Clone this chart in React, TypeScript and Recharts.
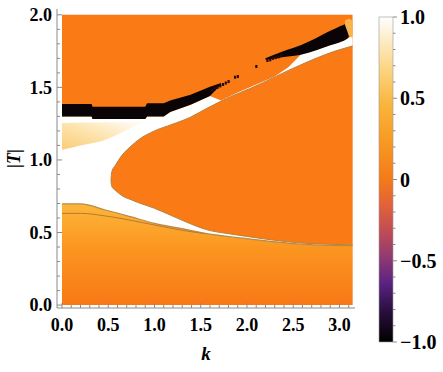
import { Area, ComposedChart, Line, Scatter, XAxis, YAxis } from 'recharts';

// tick positions (major every 0.5, minor every 0.1)
const xTicks = [0, 0.1, 0.2, 0.3, 0.4, 0.5, 0.6, 0.7, 0.8, 0.9, 1, 1.1, 1.2, 1.3, 1.4, 1.5, 1.6, 1.7, 1.8, 1.9, 2, 2.1, 2.2, 2.3, 2.4, 2.5, 2.6, 2.7, 2.8, 2.9, 3, 3.1];
const yTicks = [0, 0.1, 0.2, 0.3, 0.4, 0.5, 0.6, 0.7, 0.8, 0.9, 1, 1.1, 1.2, 1.3, 1.4, 1.5, 1.6, 1.7, 1.8, 1.9, 2];

// whole plot range (value 0 -> orange)
const bgK = [0, 3.1416];
const bgTop = [2, 2];

// white band (|value| = 1) under the black band
const whiteK = [0, 0.32, 0.33, 0.9, 0.92, 1.1, 1.17, 1.39, 1.6, 1.72, 1.9, 2.1, 2.3, 2.45, 2.58, 2.9, 3.07, 3.1416];
const whiteTop = [1.3, 1.3, 1.282, 1.282, 1.3, 1.3, 1.33, 1.38, 1.44, 1.41, 1.465, 1.52, 1.575, 1.64, 1.725, 1.79, 1.83, 1.86];

// pale yellow patch at upper left
const yellowK = [0, 0.2, 0.47, 0.65, 0.79, 0.9];
const yellowLo = [1.07, 1.1, 1.14, 1.19, 1.235, 1.262];
const yellowHi = [1.255, 1.258, 1.26, 1.262, 1.264, 1.265];

// orange tongue
const tongueK = [0.53, 0.534, 0.545, 0.574, 0.646, 0.755, 0.83, 1.0, 1.19, 1.39, 1.55, 1.82, 2.04, 2.58, 2.94, 3.1416];
const tongueLo = [0.862, 0.83, 0.81, 0.793, 0.755, 0.724, 0.705, 0.667, 0.615, 0.56, 0.522, 0.49, 0.469, 0.428, 0.418, 0.415];
const tongueHi = [0.862, 0.9, 0.93, 0.96, 1.03, 1.1, 1.14, 1.2, 1.245, 1.295, 1.35, 1.435, 1.494, 1.655, 1.747, 1.785];

// lower region
const bottomK = [0, 0.2, 0.47, 0.74, 1.0, 1.28, 1.55, 2.04, 2.58, 2.9, 3.1416];
const bottomTop = [0.697, 0.697, 0.655, 0.609, 0.563, 0.529, 0.494, 0.455, 0.42, 0.412, 0.41];
const innerK = [0, 0.2, 0.47, 1.0, 1.3, 1.55];
const innerT = [0.632, 0.632, 0.614, 0.552, 0.515, 0.492];

// black band (value -1)
const blackK = [0, 0.32, 0.33, 0.9, 0.92, 1.1, 1.17, 1.39, 1.6, 1.72];
const blackLo = [1.3, 1.3, 1.282, 1.282, 1.3, 1.3, 1.33, 1.38, 1.44, 1.52];
const blackHi = [1.385, 1.385, 1.367, 1.367, 1.39, 1.39, 1.41, 1.45, 1.505, 1.53];
const black2K = [2.2, 2.4, 2.58, 2.75, 2.9, 3.0, 3.07, 3.1];
const black2Lo = [1.69, 1.71, 1.725, 1.755, 1.79, 1.81, 1.83, 1.845];
const black2Hi = [1.7, 1.75, 1.79, 1.84, 1.89, 1.92, 1.94, 1.955];

// scattered black points
const dotK = [1.62, 1.65, 1.68, 1.71, 1.74, 1.77, 1.8, 1.87, 1.9, 2.1, 2.22, 2.25, 2.28, 2.31, 2.34, 2.37];
const dotT = [1.48, 1.49, 1.5, 1.51, 1.52, 1.53, 1.54, 1.57, 1.575, 1.644, 1.685, 1.69, 1.7, 1.705, 1.71, 1.72];

// little patch in the top right corner
const cornerK = [3.06, 3.1, 3.1416];
const cornerLo = [1.93, 1.86, 1.84];
const cornerHi = [1.96, 1.975, 1.96];

// colour bar
const barTicks = [1, 0.9, 0.8, 0.7, 0.6, 0.5, 0.4, 0.3, 0.2, 0.1, 0, -0.1, -0.2, -0.3, -0.4, -0.5, -0.6, -0.7, -0.8, -0.9, -1];
const barLabels = ['1.0', '0.5', '0', '\u22120.5', '\u22121.0'];
const barLabelValues = [1, 0.5, 0, -0.5, -1];

const ORANGE = '#fa7a15';
const FRAME = '#8a8a8a';
const FONT = "'Liberation Serif', 'Times New Roman', serif";

const band = (ks: number[], lo: number[], hi: number[]) => ks.map((k, i) => ({ k, r: [lo[i], hi[i]] }));
const curve = (ks: number[], vs: number[]) => ks.map((k, i) => ({ k, t: vs[i] }));

const isMajor = (v: number) => Math.abs(v * 2 - Math.round(v * 2)) < 1e-6;

const BottomTick = (p: any) => {
  const v = p.payload.value;
  const m = isMajor(v);
  return (
    <g>
      <line x1={p.x} y1={p.y} x2={p.x} y2={p.y - (m ? 5 : 3)} stroke={FRAME} />
      {m && (
        <text x={p.x} y={p.y + 23} textAnchor="middle" fontFamily={FONT} fontWeight="bold" fontSize={18} fill="#000">
          {v.toFixed(1)}
        </text>
      )}
    </g>
  );
};

const TopTick = (p: any) => {
  const m = isMajor(p.payload.value);
  return <line x1={p.x} y1={p.y} x2={p.x} y2={p.y + (m ? 5 : 3)} stroke={FRAME} />;
};

const LeftTick = (p: any) => {
  const v = p.payload.value;
  const m = isMajor(v);
  return (
    <g>
      <line x1={p.x} y1={p.y} x2={p.x + (m ? 5 : 3)} y2={p.y} stroke={FRAME} />
      {m && (
        <text x={p.x - 5} y={p.y} dy="0.35em" textAnchor="end" fontFamily={FONT} fontWeight="bold" fontSize={18} fill="#000">
          {v.toFixed(1)}
        </text>
      )}
    </g>
  );
};

const RightTick = (p: any) => {
  const m = isMajor(p.payload.value);
  return <line x1={p.x} y1={p.y} x2={p.x - (m ? 5 : 3)} y2={p.y} stroke={FRAME} />;
};

const ColorBar = () => {
  const top = 17;
  const h = 325;
  const x0 = 379;
  const w = 14;
  const yOf = (v: number) => top + ((1 - v) / 2) * h;
  return (
    <svg width={443} height={372} style={{ position: 'absolute', left: 0, top: 0, pointerEvents: 'none' }}>
      <defs>
        <linearGradient id="sunset" x1="0" y1="0" x2="0" y2="1">
          <stop offset="0" stopColor="#ffffff" />
          <stop offset="0.08" stopColor="#fde9bf" />
          <stop offset="0.17" stopColor="#fbd27a" />
          <stop offset="0.27" stopColor="#f9b43c" />
          <stop offset="0.38" stopColor="#f89a22" />
          <stop offset="0.5" stopColor="#f47a18" />
          <stop offset="0.58" stopColor="#e0623a" />
          <stop offset="0.66" stopColor="#c04c55" />
          <stop offset="0.74" stopColor="#8f3a72" />
          <stop offset="0.82" stopColor="#5a2282" />
          <stop offset="0.9" stopColor="#2c1042" />
          <stop offset="1" stopColor="#000000" />
        </linearGradient>
      </defs>
      <rect x={x0} y={top} width={w} height={h} fill="url(#sunset)" stroke="#9a9a9a" strokeWidth={0.6} />
      {barTicks.map((v) => (
        <line key={v} x1={x0 + w} x2={x0 + w + (isMajor(v) ? 4 : 2.5)} y1={yOf(v)} y2={yOf(v)} stroke={FRAME} />
      ))}
      {barLabelValues.map((v, i) => (
        <text key={v} x={x0 + w + 7} y={yOf(v)} dy="0.35em" fontFamily={FONT} fontWeight="bold" fontSize={20} fill="#000">
          {barLabels[i]}
        </text>
      ))}
    </svg>
  );
};

export default function App() {
  const xDomain = [-0.054, 3.168];
  const yDomain = [-0.02, 2.04];
  return (
    <div style={{ position: 'absolute', left: 0, top: 0, width: 443, height: 372, background: '#fff' }}>
      <ComposedChart width={443} height={372} margin={{ top: 9, right: 88, bottom: 0, left: 0 }}>
        <defs>
          <linearGradient id="lowGrad" x1="0" y1="0" x2="0" y2="1">
            <stop offset="0" stopColor="#fdb53a" />
            <stop offset="0.45" stopColor="#fb951f" />
            <stop offset="1" stopColor="#f87816" />
          </linearGradient>
          <linearGradient id="yellowGrad" x1="0" y1="1" x2="1" y2="0">
            <stop offset="0" stopColor="#f9cd78" />
            <stop offset="0.45" stopColor="#fde2aa" />
            <stop offset="1" stopColor="#ffffff" />
          </linearGradient>
        </defs>
        <XAxis
          xAxisId={0}
          dataKey="k"
          type="number"
          domain={xDomain}
          allowDataOverflow
          ticks={xTicks}
          interval={0}
          height={64}
          tickSize={0}
          tickMargin={0}
          tickLine={false}
          axisLine={{ stroke: FRAME }}
          tick={<BottomTick />}
          label={{
            content: ({ viewBox }: any) => (
              <text x={viewBox.x + viewBox.width / 2} y={viewBox.y + 52} textAnchor="middle" fontFamily={FONT} fontWeight="bold" fontStyle="italic" fontSize={19} fill="#000">
                k
              </text>
            ),
          }}
        />
        <XAxis
          xAxisId="top"
          orientation="top"
          dataKey="k"
          type="number"
          domain={xDomain}
          allowDataOverflow
          ticks={xTicks}
          interval={0}
          height={0}
          tickSize={0}
          tickMargin={0}
          tickLine={false}
          axisLine={{ stroke: FRAME }}
          tick={<TopTick />}
        />
        <YAxis
          yAxisId={0}
          type="number"
          domain={yDomain}
          allowDataOverflow
          ticks={yTicks}
          interval={0}
          width={57}
          tickSize={0}
          tickMargin={0}
          tickLine={false}
          axisLine={{ stroke: FRAME }}
          tick={<LeftTick />}
          label={{
            content: ({ viewBox }: any) => {
              const cx = viewBox.x + 14;
              const cy = viewBox.y + viewBox.height / 2;
              return (
                <text x={cx} y={cy} transform={`rotate(-90 ${cx} ${cy})`} textAnchor="middle" dy="0.35em" fontFamily={FONT} fontWeight="bold" fontSize={18} fill="#000">
                  |<tspan fontStyle="italic">T</tspan>|
                </text>
              );
            },
          }}
        />
        <YAxis
          yAxisId="right"
          orientation="right"
          type="number"
          domain={yDomain}
          allowDataOverflow
          ticks={yTicks}
          interval={0}
          width={0}
          tickSize={0}
          tickMargin={0}
          tickLine={false}
          axisLine={{ stroke: FRAME }}
          tick={<RightTick />}
        />

        <Area data={curve(bgK, bgTop)} dataKey="t" baseValue={0} type="linear" fill={ORANGE} fillOpacity={1} stroke="none" isAnimationActive={false} activeDot={false} />
        <Area data={curve(whiteK, whiteTop)} dataKey="t" baseValue={0} type="linear" fill="#ffffff" fillOpacity={1} stroke="none" isAnimationActive={false} activeDot={false} />
        <Area data={band(yellowK, yellowLo, yellowHi)} dataKey="r" type="monotone" fill="url(#yellowGrad)" fillOpacity={1} stroke="none" isAnimationActive={false} activeDot={false} />
        <Area data={band(tongueK, tongueLo, tongueHi)} dataKey="r" type="monotone" fill={ORANGE} fillOpacity={1} stroke="#b8803c" strokeWidth={1} isAnimationActive={false} activeDot={false} />
        <Area data={curve(bottomK, bottomTop)} dataKey="t" baseValue={0} type="monotone" fill="url(#lowGrad)" fillOpacity={1} stroke="#b88a42" strokeWidth={1.2} isAnimationActive={false} activeDot={false} />
        <Line data={curve(innerK, innerT)} dataKey="t" type="monotone" stroke="#b57a34" strokeWidth={1} dot={false} activeDot={false} isAnimationActive={false} />
        <Area data={band(blackK, blackLo, blackHi)} dataKey="r" type="linear" fill="#0a0406" fillOpacity={1} stroke="none" isAnimationActive={false} activeDot={false} />
        <Area data={band(black2K, black2Lo, black2Hi)} dataKey="r" type="monotone" fill="#0a0406" fillOpacity={1} stroke="none" isAnimationActive={false} activeDot={false} />
        <Area data={band(cornerK, cornerLo, cornerHi)} dataKey="r" type="linear" fill="#f7b44a" fillOpacity={1} stroke="none" isAnimationActive={false} activeDot={false} />
        <Scatter
          data={curve(dotK, dotT)}
          dataKey="t"
          isAnimationActive={false}
          shape={(p: any) => <rect x={p.cx - 1} y={p.cy - 1.5} width={2.2} height={3} fill="#2a0c08" />}
        />
      </ComposedChart>
      <ColorBar />
    </div>
  );
}
